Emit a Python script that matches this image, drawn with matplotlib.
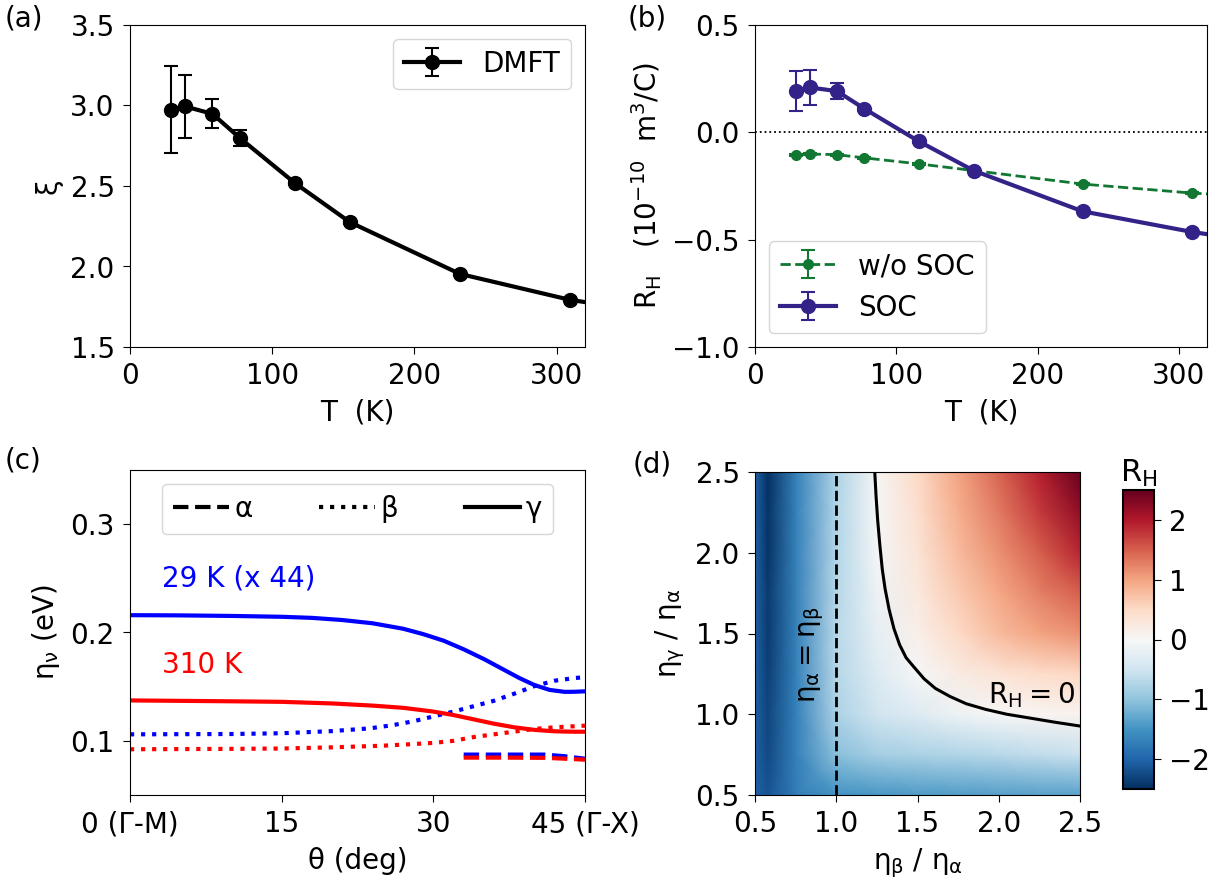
import numpy as np
import matplotlib
matplotlib.use("Agg")
import matplotlib.pyplot as plt

plt.rcParams['font.family'] = ['DejaVu Sans']
plt.rcParams['font.size'] = 20
plt.rcParams['mathtext.default'] = 'regular'
plt.rcParams['xtick.major.size'] = 5
plt.rcParams['ytick.major.size'] = 5
plt.rcParams['xtick.major.pad'] = 6
plt.rcParams['ytick.major.pad'] = 6
plt.rcParams['axes.labelpad'] = 6

# ---- data ----
# (a) DMFT xi vs T
T_dmft = [29.0, 38.7, 58.0, 77.4, 116.0, 154.7, 232.0, 309.4, 387.0]
xi_dmft = [2.975, 2.994, 2.948, 2.797, 2.518, 2.275, 1.954, 1.793, 1.69]
xi_err = [0.272, 0.195, 0.09, 0.048, 0.012, 0.01, 0.008, 0.006, 0.005]

# (b) Hall coefficient
T_hall = [29.0, 38.7, 58.0, 77.4, 116.0, 154.7, 232.0, 309.4, 387.0]
rh_soc = [0.193, 0.209, 0.192, 0.110, -0.042, -0.178, -0.368, -0.464, -0.54]
rh_soc_err = [0.093, 0.08, 0.036, 0.01, 0.008, 0.006, 0.005, 0.005, 0.005]
rh_nosoc = [-0.104, -0.101, -0.104, -0.119, -0.147, -0.178, -0.241, -0.283, -0.31]
rh_nosoc_err = [0.005, 0.005, 0.004, 0.004, 0.003, 0.003, 0.003, 0.003, 0.003]

# (c) scattering rates vs angle
theta_g29 = [0, 5, 10, 15, 18, 21, 24, 27, 29, 31, 33, 35, 37, 38.5, 40, 41.5, 43, 44, 45]
eta_g_29 = [0.216, 0.2158, 0.2153, 0.2145, 0.2135, 0.2115, 0.2085, 0.2035, 0.1985,
            0.1925, 0.1845, 0.1755, 0.1655, 0.158, 0.1515, 0.147, 0.1452, 0.1453, 0.1457]
theta_b29 = [0, 10, 15, 20, 23.7, 26, 28, 30, 32, 34, 36, 38, 40, 42, 44, 45]
eta_b_29 = [0.106, 0.1063, 0.107, 0.109, 0.1115, 0.1145, 0.118, 0.1225, 0.127, 0.132,
            0.137, 0.1435, 0.1505, 0.1555, 0.158, 0.1587]
theta_g310 = [0, 10, 15, 20, 24, 27, 30, 32, 34, 36, 38, 40, 42, 44, 45]
eta_g_310 = [0.1373, 0.1365, 0.136, 0.1345, 0.1325, 0.1305, 0.127, 0.1238, 0.1198,
             0.1158, 0.1125, 0.1101, 0.1088, 0.1084, 0.1084]
theta_b310 = [0, 10, 15, 20, 25, 28, 30, 32, 34, 36, 38, 40, 42, 44, 45]
eta_b_310 = [0.0922, 0.0926, 0.0929, 0.094, 0.0955, 0.097, 0.0981, 0.1, 0.1035, 0.106,
             0.1085, 0.111, 0.1125, 0.1135, 0.114]
theta_a = [33, 37, 41, 43, 45]
eta_a_29 = [0.0873, 0.0873, 0.0873, 0.0858, 0.0835]
eta_a_310 = [0.0845, 0.0845, 0.0843, 0.0835, 0.0826]

# (d) R_H map
ratio_b = [0.5, 0.58, 0.75, 1.0, 1.25, 1.5, 1.75, 2.0, 2.25, 2.5]
ratio_g = [0.5, 0.75, 1.0, 1.25, 1.5, 1.75, 2.0, 2.25, 2.5]
rh_map = [
    [-2.05, -2.15, -1.75, -1.50, -1.45, -1.42, -1.40, -1.38, -1.36, -1.35],
    [-2.05, -2.25, -1.70, -1.05, -0.85, -0.80, -0.75, -0.70, -0.62, -0.55],
    [-2.05, -2.30, -1.70, -0.80, -0.50, -0.32, -0.12, 0.00, 0.05, 0.08],
    [-2.05, -2.35, -1.70, -0.72, -0.35, -0.02, 0.20, 0.35, 0.45, 0.52],
    [-2.05, -2.40, -1.70, -0.70, -0.22, 0.15, 0.50, 0.80, 1.00, 1.15],
    [-2.05, -2.40, -1.70, -0.72, -0.12, 0.25, 0.65, 0.97, 1.25, 1.50],
    [-2.05, -2.45, -1.70, -0.74, -0.05, 0.35, 0.80, 1.15, 1.50, 1.90],
    [-2.05, -2.45, -1.70, -0.76, -0.02, 0.42, 0.90, 1.30, 1.75, 2.20],
    [-2.05, -2.50, -1.70, -0.78, 0.02, 0.50, 1.00, 1.45, 1.95, 2.50],
]
zero_x = [1.237, 1.245, 1.255, 1.268, 1.283, 1.30, 1.325, 1.355, 1.39, 1.43, 1.48,
          1.54, 1.61, 1.70, 1.80, 1.92, 2.05, 2.20, 2.35, 2.5]
zero_y = [2.5, 2.35, 2.2, 2.05, 1.9, 1.78, 1.65, 1.53, 1.43, 1.35, 1.29,
          1.22, 1.16, 1.11, 1.065, 1.03, 1.0, 0.975, 0.95, 0.927]

W, H = 1225, 888
fig = plt.figure(figsize=(12.25, 8.88), dpi=100)

def box(l, t, r, b):
    return [l / W, 1 - b / H, (r - l) / W, (b - t) / H]

soc_c = '#332288'
nosoc_c = '#117733'

# (a)
ax1 = fig.add_axes(box(130, 25, 585, 347))
ax1.errorbar(T_dmft, xi_dmft, yerr=xi_err, color='k', lw=3, marker='o', ms=10,
             capsize=5, elinewidth=1.5, capthick=1.5, label='DMFT')
ax1.set_xlim(0, 320)
ax1.set_ylim(1.5, 3.5)
ax1.set_xlabel('T  (K)')
ax1.set_ylabel('ξ')
ax1.legend(loc='upper right')

# (b)
ax2 = fig.add_axes(box(755, 25, 1207, 347))
ax2.axhline(0, color='k', ls=':', lw=1.3)
ax2.errorbar(T_hall, rh_nosoc, yerr=rh_nosoc_err, color=nosoc_c, lw=2, ls='--',
             marker='o', ms=7, capsize=5, elinewidth=1.5, capthick=1.5, label='w/o SOC')
ax2.errorbar(T_hall, rh_soc, yerr=rh_soc_err, color=soc_c, lw=3, marker='o', ms=10,
             capsize=5, elinewidth=1.5, capthick=1.5, label='SOC')
ax2.set_xlim(0, 320)
ax2.set_ylim(-1.0, 0.5)
ax2.set_xlabel('T  (K)')
ax2.set_ylabel('$R_H$   ($10^{-10}$  $m^3$/C)')
ax2.legend(loc='lower left')

# (c)
ax3 = fig.add_axes(box(130, 470, 585, 795))
ax3.plot(theta_g29, eta_g_29, color='blue', lw=3)
ax3.plot(theta_b29, eta_b_29, color='blue', lw=3, ls=':')
ax3.plot(theta_a, eta_a_29, color='blue', lw=3, ls='--')
ax3.plot(theta_g310, eta_g_310, color='red', lw=3)
ax3.plot(theta_b310, eta_b_310, color='red', lw=3, ls=':')
ax3.plot(theta_a, eta_a_310, color='red', lw=3, ls='--')
ax3.plot([], [], color='k', lw=3, ls='--', label='α')
ax3.plot([], [], color='k', lw=3, ls=':', label='β')
ax3.plot([], [], color='k', lw=3, ls='-', label='γ')
ax3.legend(loc='upper center', ncol=3, handlelength=2.0, handletextpad=0.2,
           columnspacing=2.4)
ax3.text(3.2, 0.25, '29 K (x 44)', color='blue', va='center')
ax3.text(3.2, 0.17, '310 K', color='red', va='center')
ax3.set_xlim(0, 45)
ax3.set_ylim(0.05, 0.35)
ax3.set_xticks([0, 15, 30, 45])
ax3.set_xticklabels(['0 (Γ-M)', '15', '30', '45 (Γ-X)'])
ax3.set_yticks([0.1, 0.2, 0.3])
ax3.set_xlabel('θ (deg)')
ax3.set_ylabel('$η_ν$ (eV)')

# (d)
ax4 = fig.add_axes(box(755, 472, 1080, 795))
mesh = ax4.pcolormesh(ratio_b, ratio_g, np.array(rh_map), cmap='RdBu_r',
                      vmin=-2.5, vmax=2.5, shading='gouraud')
ax4.plot(zero_x, zero_y, color='k', lw=2.2)
ax4.axvline(1.0, color='k', ls='--', lw=2)
ax4.text(0.85, 1.37, '$η_α = η_β$', rotation=90, ha='center', va='center')
ax4.text(2.2, 1.12, '$R_H = 0$', ha='center', va='center')
ax4.set_xlim(0.5, 2.5)
ax4.set_ylim(0.5, 2.5)
ax4.set_xticks([0.5, 1.0, 1.5, 2.0, 2.5])
ax4.set_yticks([0.5, 1.0, 1.5, 2.0, 2.5])
ax4.set_xlabel('$η_β$ / $η_α$')
ax4.set_ylabel('$η_γ$ / $η_α$')

cax = fig.add_axes(box(1123, 490, 1154, 789))
cb = fig.colorbar(mesh, cax=cax, ticks=[-2, -1, 0, 1, 2])
cb.outline.set_linewidth(1.5)
cax.set_title('$R_H$', fontsize=22, pad=6)

fig.text(5 / W, 1 - 18 / H, '(a)', fontsize=20, va='center')
fig.text(628 / W, 1 - 18 / H, '(b)', fontsize=20, va='center')
fig.text(5 / W, 1 - 460 / H, '(c)', fontsize=20, va='center')
fig.text(633 / W, 1 - 464 / H, '(d)', fontsize=20, va='center')

fig.savefig('out.png', dpi=100)
